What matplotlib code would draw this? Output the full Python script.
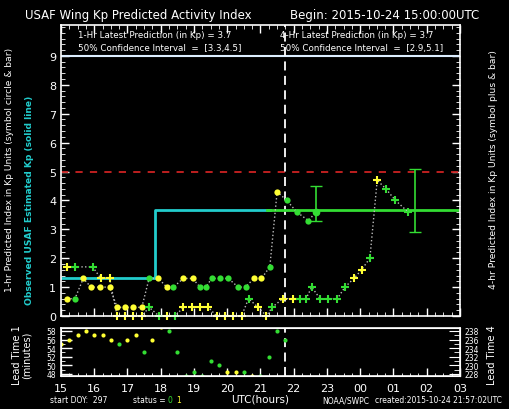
import numpy as np
import matplotlib
matplotlib.use('Agg')
import matplotlib.pyplot as plt
from matplotlib.ticker import MultipleLocator

YEL = '#ffff33'
GRN = '#33dd33'
CYN = '#22cccc'
RED = '#cc2222'

# 1-hr prediction (circles): hours since 15 UTC, Kp, colour flag (0 green, 1 yellow)
c_hr = [0.17, 0.42, 0.67, 0.9, 1.17, 1.46, 1.69, 1.93, 2.18, 2.43, 2.65, 2.93, 3.18, 3.38,
        3.68, 3.96, 4.18, 4.36, 4.53, 4.78, 5.03, 5.33, 5.55, 5.8, 6.03, 6.28, 6.5, 6.79,
        7.09, 7.44, 7.67]
c_kp = [0.6, 0.6, 1.3, 1.0, 1.0, 1.0, 0.3, 0.3, 0.3, 0.3, 1.3, 1.3, 1.0, 1.0,
        1.3, 1.3, 1.0, 1.0, 1.3, 1.3, 1.3, 1.0, 1.0, 1.3, 1.3, 1.7, 4.3, 4.0,
        3.6, 3.3, 3.6]
c_st = [1, 0, 1, 1, 1, 1, 1, 1, 1, 1, 0, 1, 1, 0,
        1, 1, 0, 0, 0, 0, 0, 0, 0, 1, 1, 0, 1, 0,
        0, 0, 0]

# 4-hr prediction (plus)
p_hr = [0.17, 0.42, 0.95, 1.2, 1.46, 1.69, 1.93, 2.18, 2.43, 2.65, 2.95, 3.18, 3.43,
        3.68, 3.93, 4.18, 4.43, 4.68, 4.93, 5.18, 5.43, 5.64, 5.93, 6.18, 6.35,
        6.67, 6.97, 7.19, 7.37, 7.54, 7.79, 8.04, 8.31, 8.54, 8.81, 9.04, 9.29,
        9.51, 9.77, 10.06, 10.44]
p_kp = [1.7, 1.7, 1.7, 1.3, 1.3, 0, 0, 0, 0, 0.3, 0, 0, 0,
        0.3, 0.3, 0.3, 0.3, 0, 0, 0, 0, 0.6, 0.3, 0, 0.3,
        0.6, 0.6, 0.6, 0.6, 1.0, 0.6, 0.6, 0.6, 1.0, 1.3, 1.6, 2.0,
        4.7, 4.4, 4.0, 3.6]
p_st = [1, 0, 0, 1, 1, 1, 1, 1, 1, 0, 0, 1, 0,
        1, 1, 1, 1, 1, 1, 1, 1, 0, 1, 1, 0,
        1, 1, 0, 0, 0, 0, 0, 0, 0, 1, 1, 0,
        1, 0, 0, 0]

# observed Kp (step line) and latest predictions
obs_x = [0, 2.83, 2.83, 6.3]
obs_y = [1.33, 1.33, 3.67, 3.67]
pred_x = [6.19, 12]
pred_y = [3.67, 3.67]
err1 = (7.67, 3.6, 3.3, 4.5)
err4 = (10.65, 3.7, 2.9, 5.1)
now_hr = 6.74

# lead times (minutes) for bottom panel
l_hr = [0, 0.25, 0.5, 0.75, 1.0, 1.25, 1.5, 1.75, 2.0, 2.25, 2.5, 2.75, 3.0, 3.25, 3.5,
        3.75, 4.0, 4.25, 4.5, 4.75, 5.0, 5.25, 5.5, 5.75, 6.0, 6.25, 6.5, 6.73]
l_min = [55, 56, 57, 58, 57, 57, 56, 55, 56, 57, 53, 56, 59, 58, 53,
         47.6, 48.5, 47.6, 51, 50, 48.5, 48.5, 48.5, 47.6, 47.6, 52, 58, 56]
l_st = [1, 1, 1, 1, 1, 1, 1, 0, 1, 1, 0, 1, 1, 0, 0,
        0, 0, 0, 0, 0, 1, 1, 0, 1, 0, 0, 0, 0]
hour_labels = ['15', '16', '17', '18', '19', '20', '21', '22', '23', '00', '01', '02', '03']

plt.rcParams['font.family'] = 'DejaVu Sans'
fig = plt.figure(figsize=(5.1, 4.1), dpi=100, facecolor='black')

def style(ax):
    ax.set_facecolor('black')
    for s in ax.spines.values():
        s.set_color('white')
        s.set_linewidth(1.2)
    ax.tick_params(colors='white', direction='in', labelsize=7, length=6, width=1)
    ax.tick_params(which='minor', direction='in', length=3, color='white')
    ax.set_xlim(0, 12)

ax = fig.add_axes([61/510, (410-317)/410, 399/510, 291/410])
style(ax)
ax.set_ylim(0, 10.07)
ax.set_yticks(range(10))
ax.yaxis.set_minor_locator(MultipleLocator(0.2))
ax.xaxis.set_major_locator(MultipleLocator(1))
ax.xaxis.set_minor_locator(MultipleLocator(0.25))
ax.tick_params(labelbottom=False, top=True, right=True, which='both')
ax.tick_params(axis='y', labelsize=8)
ax.axhline(9, color='#ddeeff', lw=1.5)
ax.axhline(5, color=RED, lw=1.3, ls=(0, (4, 4)))
ax.axvline(now_hr, color='white', lw=1.3, ls=(0, (5, 3)))

ax.plot(obs_x, obs_y, color=CYN, lw=2)
ax.plot(pred_x, pred_y, color=GRN, lw=2)
ax.plot(c_hr, c_kp, ls=':', color='#bbbbbb', lw=1)
ax.plot(p_hr, p_kp, ls=':', color='#bbbbbb', lw=1)
for x, y, s in zip(c_hr, c_kp, c_st):
    ax.plot(x, y, 'o', ms=4.5, color=YEL if s else GRN, mec='none')
for x, y, s in zip(p_hr, p_kp, p_st):
    ax.plot(x, y, '+', ms=6, mew=1.5, color=YEL if s else GRN, clip_on=False)
for x, y, lo, hi in [err1, err4]:
    ax.errorbar(x, y, yerr=[[y - lo], [hi - y]], color=GRN, capsize=4, lw=1.2)
ax.plot(err1[0], err1[1], 'o', ms=4.5, color=GRN)

ax.text(0.5, 9.75, '1-Hr Latest Prediction (in Kp) = 3.7', color='white', fontsize=6.3, va='center')
ax.text(0.5, 9.3, '50% Confidence Interval  =  [3.3,4.5]', color='white', fontsize=6.3, va='center')
ax.text(6.6, 9.75, '4-Hr Latest Prediction (in Kp) = 3.7', color='white', fontsize=6.3, va='center')
ax.text(6.6, 9.3, '50% Confidence Interval  =  [2.9,5.1]', color='white', fontsize=6.3, va='center')

fig.text(25/510, 1 - 15/410, 'USAF Wing Kp Predicted Activity Index', color='white', fontsize=8.5, va='center')
fig.text(290/510, 1 - 15/410, 'Begin: 2015-10-24 15:00:00UTC', color='white', fontsize=8.5, va='center')
fig.text(10/510, 1 - 170/410, '1-hr Predicted Index in Kp Units (symbol circle & bar)', color='white',
         fontsize=6.6, rotation=90, ha='center', va='center')
fig.text(30/510, 1 - 200/410, 'Observed USAF Estimated Kp (solid line)', color=CYN,
         fontsize=6.6, rotation=90, ha='center', va='center', weight='bold')
fig.text(494/510, 1 - 170/410, '4-hr Predicted Index in Kp Units (symbol plus & bar)', color='white',
         fontsize=6.6, rotation=90, ha='center', va='center')

# bottom lead-time panel
bx = fig.add_axes([61/510, (410-377)/410, 399/510, 48/410])
style(bx)
bx.set_ylim(47.5, 58.7)
bx.set_yticks(range(48, 59, 2))
bx.yaxis.set_minor_locator(MultipleLocator(1))
bx.set_xticks(range(13))
bx.set_xticklabels(hour_labels, fontsize=8)
bx.xaxis.set_minor_locator(MultipleLocator(0.25))
bx.tick_params(axis='y', labelsize=5.5, length=8)
bx.tick_params(axis='x', which='minor', length=2)
bx.tick_params(axis='x', pad=5)
bx.axvline(now_hr, color='white', lw=1.3, ls=(0, (5, 3)))
for x, y, s in zip(l_hr, l_min, l_st):
    bx.plot(x, y, 'o', ms=3, color=YEL if s else GRN, mec='none')
rx = bx.twinx()
rx.set_ylim(47.5 + 180, 58.7 + 180)
rx.set_yticks(range(228, 239, 2))
rx.tick_params(colors='white', direction='in', labelsize=5.5, length=8)
rx.yaxis.set_minor_locator(MultipleLocator(1))
rx.tick_params(which='minor', direction='in', length=4, color='white')
for s in rx.spines.values():
    s.set_color('white')

fig.text(22/510, 1 - 355/410, 'Lead Time 1\n(minutes)', color='white', fontsize=7,
         rotation=90, ha='center', va='center', linespacing=1.0)
fig.text(492/510, 1 - 355/410, 'Lead Time 4', color='white', fontsize=7,
         rotation=90, ha='center', va='center')
fig.text(260/510, 1 - 400/410, 'UTC(hours)', color='white', fontsize=7.5, ha='center', va='center')
fig.text(50/510, 1 - 401/410, 'start DOY:  297', color='white', fontsize=5.5, va='center')
fig.text(133/510, 1 - 401/410, 'status = ', color='white', fontsize=5.5, va='center')
fig.text(168/510, 1 - 401/410, '0', color=GRN, fontsize=5.5, va='center')
fig.text(176/510, 1 - 401/410, '1', color=YEL, fontsize=5.5, va='center')
fig.text(322/510, 1 - 401/410, 'NOAA/SWPC', color='white', fontsize=5.5, va='center')
fig.text(375/510, 1 - 401/410, 'created:2015-10-24 21:57:02UTC', color='white', fontsize=5.5, va='center')

fig.savefig('out.png', dpi=100, facecolor='black')
